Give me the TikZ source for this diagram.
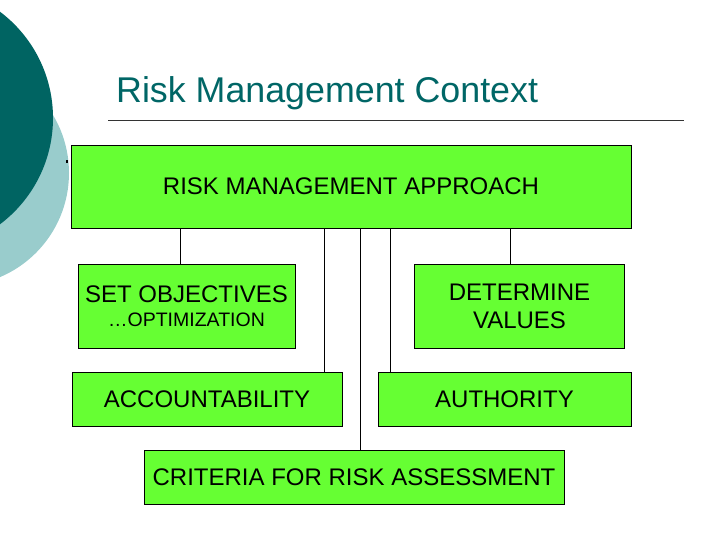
\documentclass[tikz,border=0pt]{standalone}
\usepackage{fontspec}
\setmainfont{Liberation Sans}
\definecolor{darkteal}{RGB}{0,100,98}
\definecolor{lightteal}{RGB}{153,204,204}
\definecolor{boxgreen}{RGB}{102,255,51}
\definecolor{titleteal}{RGB}{0,102,102}
\begin{document}
\begin{tikzpicture}[x=1pt,y=-1pt,
  gbox/.style={draw=black,line width=0.9pt,fill=boxgreen,inner sep=0pt,align=center,
     font=\fontsize{24}{28}\selectfont},
  link/.style={draw=black,line width=0.8pt}]
\useasboundingbox (0,0) rectangle (720,540);
\begin{scope}
\clip (0,0) rectangle (720,540);
\fill[lightteal] (-44,173) circle (113);
\fill[darkteal] (-80,118) circle (133);
\end{scope}
\fill[black] (65.5,160) rectangle (68,163);
\node[anchor=base west,text=titleteal,inner sep=0pt,font=\fontsize{35.8}{40}\selectfont] (title) at (116,103) {Risk Management Context};
\coordinate (ulA) at (108,120);
\coordinate (ulB) at (684,120);
\draw[line width=0.7pt,black!80] (ulA) -- (ulB);
\node[gbox,minimum width=560pt,minimum height=83pt] (main) at (351,186.5) {RISK MANAGEMENT APPROACH};
\node[gbox,minimum width=217pt,minimum height=84pt] (setobj) at (186.5,306) {SET OBJECTIVES\\[-4pt]{\fontsize{19.5}{22}\selectfont \ldots OPTIMIZATION}};
\node[gbox,minimum width=210pt,minimum height=84pt] (detval) at (519.5,306) {DETERMINE\\VALUES};
\node[gbox,minimum width=270pt,minimum height=54pt] (acc) at (207,399) {ACCOUNTABILITY};
\node[gbox,minimum width=253pt,minimum height=54pt] (auth) at (504.5,399) {AUTHORITY};
\node[gbox,minimum width=420pt,minimum height=54pt] (crit) at (354,477) {CRITERIA FOR RISK ASSESSMENT};
\coordinate (x1) at (180,0);
\coordinate (x2) at (324,0);
\coordinate (x3) at (360,0);
\coordinate (x4) at (390,0);
\coordinate (x5) at (510,0);
\draw[link] (x1 |- main.south) -- (x1 |- setobj.north);
\draw[link] (x2 |- main.south) -- (x2 |- acc.north);
\draw[link] (x3 |- main.south) -- (x3 |- crit.north);
\draw[link] (x4 |- main.south) -- (x4 |- auth.north);
\draw[link] (x5 |- main.south) -- (x5 |- detval.north);
\end{tikzpicture}
\end{document}
